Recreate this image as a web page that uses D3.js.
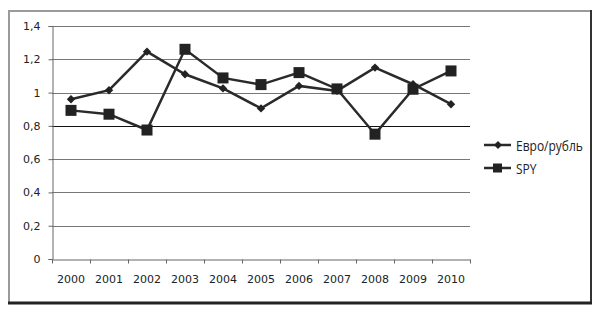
<!DOCTYPE html>
<html>
<head>
<meta charset="utf-8">
<script src="https://cdn.jsdelivr.net/npm/d3@7"></script>
<style>
  body { margin: 0; background: #fff; }
  svg { display: block; }
</style>
</head>
<body>
<div id="chart"></div>
<script>
// values
const years = ["2000", "2001", "2002", "2003", "2004", "2005", "2006", "2007", "2008", "2009", "2010"];
const euroRub = [0.96, 1.014, 1.246, 1.11, 1.025, 0.905, 1.04, 1.01, 1.15, 1.05, 0.93];
const spy = [0.893, 0.87, 0.775, 1.26, 1.088, 1.048, 1.12, 1.022, 0.75, 1.02, 1.13];
const yTicks = [0, 0.2, 0.4, 0.6, 0.8, 1, 1.2, 1.4];
const seriesNames = ["Евро/рубль", "SPY"];

const width = 597;
const height = 310;
const margin = { left: 52, right: 127, top: 26, bottom: 51 };

const svg = d3
  .select("#chart")
  .append("svg")
  .attr("width", width)
  .attr("height", height);

// frame: light top/left, dark heavier bottom/right
svg.append("line").attr("x1", 9).attr("x2", 591).attr("y1", 11).attr("y2", 11)
  .attr("stroke", "#9a9a9a").attr("stroke-width", 2);
svg.append("line").attr("x1", 9).attr("x2", 9).attr("y1", 10).attr("y2", 304)
  .attr("stroke", "#9a9a9a").attr("stroke-width", 2);
svg.append("line").attr("x1", 591).attr("x2", 591).attr("y1", 10).attr("y2", 304)
  .attr("stroke", "#333").attr("stroke-width", 2);
svg.append("line").attr("x1", 8).attr("x2", 592).attr("y1", 303).attr("y2", 303)
  .attr("stroke", "#222").attr("stroke-width", 3);

const x = d3
  .scaleBand()
  .domain(years)
  .range([margin.left, width - margin.right]);

const y = d3
  .scaleLinear()
  .domain([0, 1.4])
  .range([height - margin.bottom, margin.top]);

const fmt = (d) => (d === 0 || d === 1 ? String(d) : d3.format(".1f")(d).replace(".", ","));

// gridlines
svg
  .append("g")
  .selectAll("line")
  .data(yTicks.filter((d) => d > 0))
  .enter()
  .append("line")
  .attr("x1", margin.left)
  .attr("x2", width - margin.right)
  .attr("y1", (d) => Math.round(y(d)) + 0.5)
  .attr("y2", (d) => Math.round(y(d)) + 0.5)
  .attr("stroke", (d) => (d === 0.8 ? "#111" : "#777"))
  .attr("stroke-width", 1);

// y axis
const yAxis = d3.axisLeft(y).tickValues(yTicks).tickFormat(fmt).tickSize(4).tickPadding(8);
const gy = svg
  .append("g")
  .attr("transform", `translate(${margin.left + 0.5}, 0)`)
  .call(yAxis);
gy.selectAll("text")
  .style("font-family", "'DejaVu Sans', Verdana, sans-serif")
  .style("font-size", "11px")
  .attr("fill", "#222");
gy.selectAll("path, line").attr("stroke", "#666");

// x axis, ticks at band boundaries
const xAxis = d3.axisBottom(x).tickSize(0).tickPadding(16);
const gx = svg
  .append("g")
  .attr("transform", `translate(0, ${height - margin.bottom + 0.5})`)
  .call(xAxis);
gx.select(".domain").attr("stroke", "#666");
gx.selectAll("text")
  .style("font-family", "'DejaVu Sans', Verdana, sans-serif")
  .style("font-size", "11px")
  .attr("fill", "#222");
gx.selectAll(".bnd")
  .data(years.concat(["end"]))
  .enter()
  .append("line")
  .attr("class", "bnd")
  .attr("x1", (d, i) => Math.round(margin.left + i * x.step()) + 0.5)
  .attr("x2", (d, i) => Math.round(margin.left + i * x.step()) + 0.5)
  .attr("y1", 0)
  .attr("y2", 4)
  .attr("stroke", "#666");

const cx = (d, i) => x(years[i]) + x.bandwidth() / 2;
const line = d3.line().x(cx).y((d) => y(d));

// Евро/рубль
svg.append("path").datum(euroRub).attr("d", line)
  .attr("fill", "none").attr("stroke", "#2a2a2a").attr("stroke-width", 2.5);
svg.append("g").selectAll("path").data(euroRub).enter().append("path")
  .attr("d", d3.symbol(d3.symbolDiamond2, 45))
  .attr("transform", (d, i) => `translate(${cx(d, i)}, ${y(d)})`)
  .attr("fill", "#222");

// SPY
svg.append("path").datum(spy).attr("d", line)
  .attr("fill", "none").attr("stroke", "#2a2a2a").attr("stroke-width", 2.5);
svg.append("g").selectAll("rect").data(spy).enter().append("rect")
  .attr("x", (d, i) => cx(d, i) - 5.5)
  .attr("y", (d) => y(d) - 5.5)
  .attr("width", 11)
  .attr("height", 11)
  .attr("fill", "#222");

// legend
const legend = svg.append("g").attr("transform", "translate(484, 145)");
seriesNames.forEach((name, i) => {
  const row = legend.append("g").attr("transform", `translate(0, ${i * 23})`);
  row.append("line").attr("x1", 0).attr("x2", 27).attr("y1", 0).attr("y2", 0)
    .attr("stroke", "#2a2a2a").attr("stroke-width", 2.5);
  if (i === 0) {
    row.append("path").attr("d", d3.symbol(d3.symbolDiamond2, 40))
      .attr("transform", "translate(14, 0)").attr("fill", "#222");
  } else {
    row.append("rect").attr("x", 9).attr("y", -4.5).attr("width", 9).attr("height", 9)
      .attr("fill", "#222");
  }
  // condensed look: squeeze the text horizontally
  row.append("text")
    .attr("transform", "translate(32, 5.5) scale(0.8, 1)")
    .style("font-family", "'Open Sans', sans-serif")
    .style("font-size", "15px")
    .attr("fill", "#222")
    .text(name);
});
</script>
</body>
</html>
